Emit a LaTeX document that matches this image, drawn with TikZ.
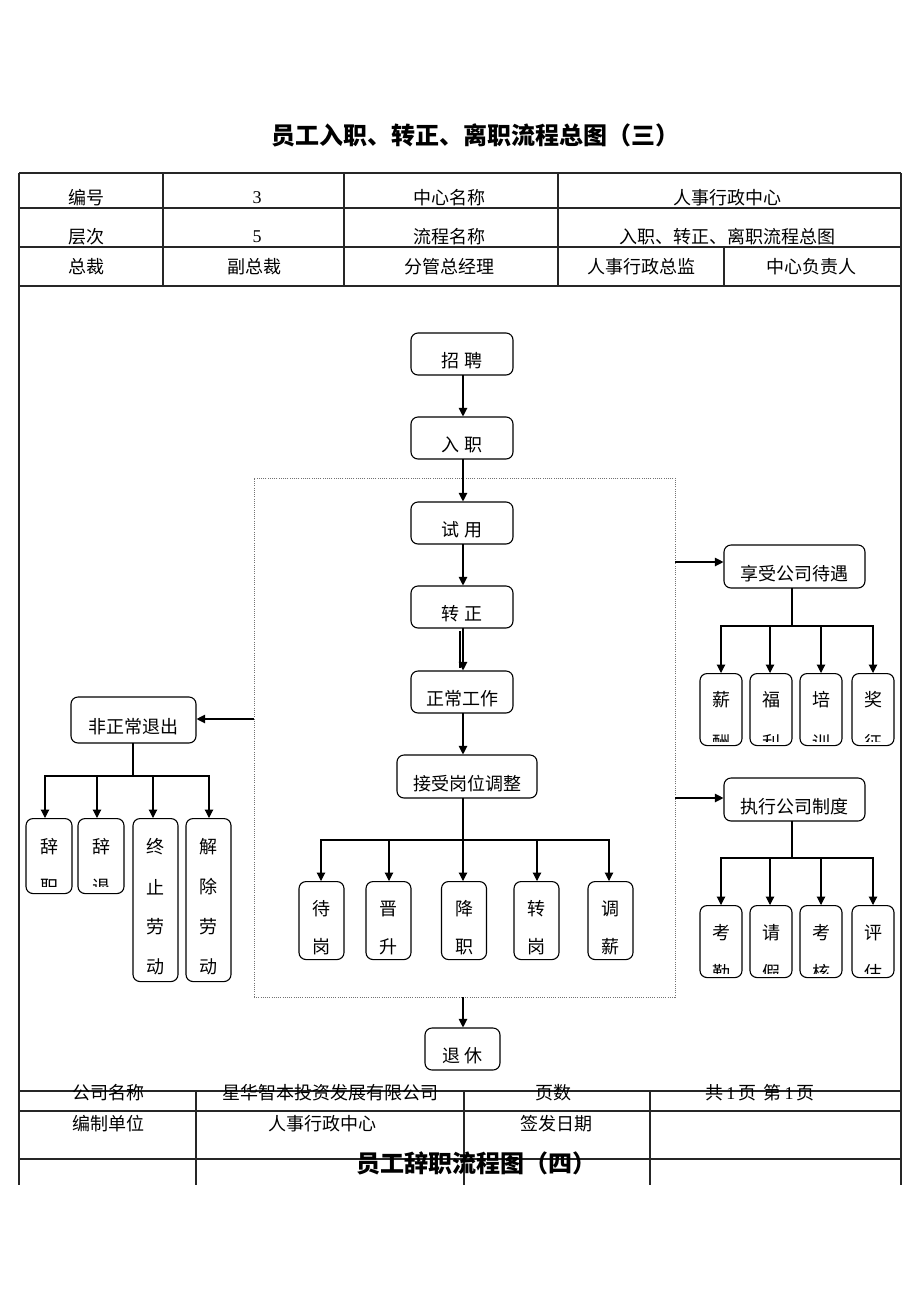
\documentclass[tikz,border=0pt]{standalone}
\usepackage{fontspec}
\setmainfont{Noto Sans CJK SC}
\newfontfamily\lat{Liberation Serif}
\usetikzlibrary{arrows.meta,calc}
\tikzset{
  box/.style={draw=black,line width=1.1pt,rounded corners=7pt,inner sep=0pt,fill=white,text height=27pt,text depth=0pt},
  sbox/.style={draw=black,line width=1.1pt,rounded corners=7pt,inner sep=0pt},
  txt/.style={inner sep=0pt,font=\fontsize{18}{20}\selectfont},
  arr/.style={line width=1.1pt,-{Triangle[length=8.5pt,width=8.5pt]}},
  ln/.style={line width=1.1pt},
  tl/.style={line width=1.3pt,black!85},
}
\newcommand{\cbox}[7]{%
  \node[sbox,minimum width=#4,minimum height=#5,anchor=north] (#1) at (#2,#3) {};
  \begin{scope}
    \clip ($(#1.south west)+(1.3,-#6)$) rectangle ($(#1.north east)+(-1.3,1.3)$);
    #7
  \end{scope}}
\begin{document}
\begin{tikzpicture}[x=1pt,y=-1pt]
\useasboundingbox[fill=white] (0,0) rectangle (920,1302);
% title
\node[inner sep=0pt,font=\fontsize{24}{26}\selectfont\bfseries] (title) at (475,135) {员工入职、转正、离职流程总图（三）};
% frame
\draw[tl] (19,173) -- (901,173);
\draw[tl] (19,208) -- (901,208);
\draw[tl] (19,247) -- (901,247);
\draw[tl] (19,286) -- (901,286);
\draw[tl] (19,173) -- (19,1185);
\draw[tl] (901,173) -- (901,1185);
\draw[tl] (163,173) -- (163,286);
\draw[tl] (344,173) -- (344,286);
\draw[tl] (558,173) -- (558,286);
\draw[tl] (724,247) -- (724,286);
% header texts
\node[txt] (h11) at (86,198) {编号};
\node[txt] (h12) at (257,198) {\lat 3};
\node[txt] (h13) at (449,198) {中心名称};
\node[txt] (h14) at (727,198) {人事行政中心};
\node[txt] (h21) at (86,237) {层次};
\node[txt] (h22) at (257,237) {\lat 5};
\node[txt] (h23) at (449,237) {流程名称};
\node[txt] (h24) at (727,237) {入职、转正、离职流程总图};
\node[txt] (h31) at (86,267) {总裁};
\node[txt] (h32) at (254,267) {副总裁};
\node[txt] (h33) at (449,267) {分管总经理};
\node[txt] (h34) at (641,267) {人事行政总监};
\node[txt] (h35) at (811,267) {中心负责人};
% dotted region
\node[draw=black!55,line width=0.7pt,dash pattern=on 1pt off 1.2pt,minimum width=421,minimum height=519,inner sep=0pt] (dot) at (464.5,737.5) {};
% main flow
\node[box,txt,minimum width=102,minimum height=42] (zp) at (462,354) {招 聘};
\node[box,txt,minimum width=102,minimum height=42] (rz) at (462,438) {入 职};
\node[box,txt,minimum width=102,minimum height=42] (sy) at (462,523) {试 用};
\node[box,txt,minimum width=102,minimum height=42] (zz) at (462,607) {转 正};
\node[box,txt,minimum width=102,minimum height=42] (zc) at (462,692) {正常工作};
\node[box,txt,minimum width=140,minimum height=43] (js) at (467,776.5) {接受岗位调整};
\node[box,txt,minimum width=75,minimum height=42] (tx) at (462.5,1049) {退 休};
\draw[arr] (463,375) coordinate (a1) -- (a1 |- rz.north);
\draw[arr] (463,459) coordinate (a2) -- (a2 |- sy.north);
\draw[arr] (463,544) coordinate (a3) -- (a3 |- zz.north);
\draw[arr] (463,628) coordinate (a4) -- (a4 |- zc.north);
\draw[ln] (460,631) coordinate (a4b) -- (460,668) coordinate (a4c);
\draw[arr] (463,713) coordinate (a5) -- (a5 |- js.north);
\draw[arr] (463,997) coordinate (a6) -- (a6 |- tx.north);
% job adjustment branch
\coordinate (jb) at (463,798);
\cbox{d1}{321.5}{881}{45}{78}{1.3}{\node[txt] at (321.5,909) {待}; \node[txt] at (321.5,947) {岗};}
\cbox{d2}{388.5}{881}{45}{78}{1.3}{\node[txt] at (388.5,909) {晋}; \node[txt] at (388.5,947) {升};}
\cbox{d3}{464}{881}{45}{78}{1.3}{\node[txt] at (464,909) {降}; \node[txt] at (464,947) {职};}
\cbox{d4}{536.5}{881}{45}{78}{1.3}{\node[txt] at (536.5,909) {转}; \node[txt] at (536.5,947) {岗};}
\cbox{d5}{610.5}{881}{45}{78}{1.3}{\node[txt] at (610.5,909) {调}; \node[txt] at (610.5,947) {薪};}
\foreach \n/\xx in {d1/321,d2/389,d3/463,d4/537,d5/609}
  \draw[arr] (jb) -- (463,840) -- (\xx,840) -- (\xx,881);
% right: benefits
\node[box,txt,minimum width=141,minimum height=43] (xs) at (794.5,566.5) {享受公司待遇};
\draw[arr] (dot.east |- 0,562) -- (xs.west |- 0,562);
\cbox{r1}{721}{673}{42}{72}{5}{\node[txt] at (721,700) {薪}; \node[txt] at (721,743) {酬};}
\cbox{r2}{771}{673}{42}{72}{5}{\node[txt] at (771,700) {福}; \node[txt] at (771,743) {利};}
\cbox{r3}{821}{673}{42}{72}{5}{\node[txt] at (821,700) {培}; \node[txt] at (821,743) {训};}
\cbox{r4}{873}{673}{42}{72}{5}{\node[txt] at (873,700) {奖}; \node[txt] at (873,743) {征};}
\coordinate (xb) at (792,588);
\foreach \xx in {721,770,821,873}
  \draw[arr] (xb) -- (792,626) -- (\xx,626) -- (\xx,673);
% right: rules
\node[box,txt,minimum width=141,minimum height=43] (zx) at (794.5,799.5) {执行公司制度};
\draw[arr] (dot.east |- 0,798) -- (zx.west |- 0,798);
\cbox{s1}{721}{905}{42}{72}{5}{\node[txt] at (721,933) {考}; \node[txt] at (721,973) {勤};}
\cbox{s2}{771}{905}{42}{72}{5}{\node[txt] at (771,933) {请}; \node[txt] at (771,973) {假};}
\cbox{s3}{821}{905}{42}{72}{5}{\node[txt] at (821,933) {考}; \node[txt] at (821,973) {核};}
\cbox{s4}{873}{905}{42}{72}{5}{\node[txt] at (873,933) {评}; \node[txt] at (873,973) {估};}
\coordinate (zb) at (792,821);
\foreach \xx in {721,770,821,873}
  \draw[arr] (zb) -- (792,858) -- (\xx,858) -- (\xx,905);
% left: abnormal exit
\node[box,txt,minimum width=125,minimum height=46] (fz) at (133.5,720) {非正常退出};
\draw[arr] (dot.west |- 0,719) -- (fz.east |- 0,719);
\cbox{l1}{49}{818}{46}{75}{8}{\node[txt] at (49,847) {辞}; \node[txt] at (49,887) {职};}
\cbox{l2}{101}{818}{46}{75}{8}{\node[txt] at (101,847) {辞}; \node[txt] at (101,887) {退};}
\cbox{l3}{155.5}{818}{45}{163}{1.3}{\node[txt] at (155.5,847) {终}; \node[txt] at (155.5,887) {止}; \node[txt] at (155.5,927) {劳}; \node[txt] at (155.5,967) {动};}
\cbox{l4}{208.5}{818}{45}{163}{1.3}{\node[txt] at (208.5,847) {解}; \node[txt] at (208.5,887) {除}; \node[txt] at (208.5,927) {劳}; \node[txt] at (208.5,967) {动};}
\coordinate (fb) at (133,743);
\foreach \xx in {45,97,153,209}
  \draw[arr] (fb) -- (133,776) -- (\xx,776) -- (\xx,818);
% footer table
\draw[tl] (19,1091) -- (901,1091);
\draw[tl] (19,1111) -- (901,1111);
\draw[tl] (19,1159) -- (901,1159);
\draw[tl] (196,1091) -- (196,1185);
\draw[tl] (464,1091) -- (464,1185);
\draw[tl] (650,1091) -- (650,1185);
\node[txt] (f11) at (108,1093) {公司名称};
\node[txt] (f12) at (330,1093) {星华智本投资发展有限公司};
\node[txt] (f13) at (553,1093) {页数};
\node[txt] (f14) at (760,1093) {共\,{\lat 1}\,页\ \,第\,{\lat 1}\,页};
\node[txt] (f21) at (108,1124) {编制单位};
\node[txt] (f22) at (322,1124) {人事行政中心};
\node[txt] (f23) at (556,1124) {签发日期};
\node[inner sep=0pt,font=\fontsize{24}{26}\selectfont\bfseries] (title2) at (476,1163) {员工辞职流程图（四）};
\end{tikzpicture}
\end{document}
